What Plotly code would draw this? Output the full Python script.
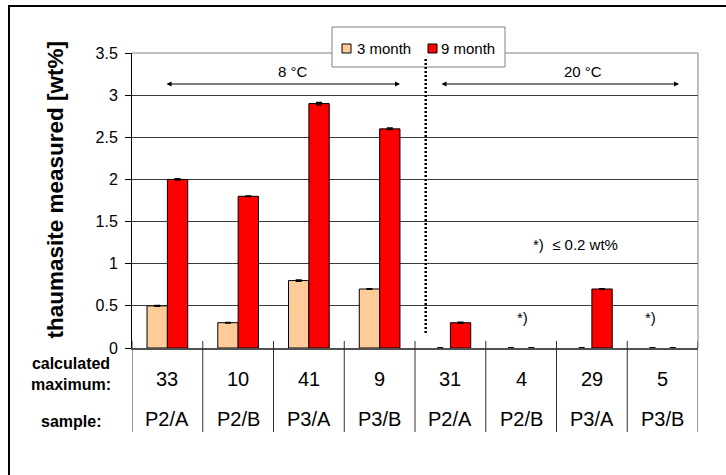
import plotly.graph_objects as go

# ---- data ----
samples = ["P2/A", "P2/B", "P3/A", "P3/B", "P2/A", "P2/B", "P3/A", "P3/B"]
calc_max = ["33", "10", "41", "9", "31", "4", "29", "5"]
month3 = [0.5, 0.3, 0.8, 0.7, 0.0, 0.0, 0.0, 0.0]
month9 = [2.0, 1.8, 2.9, 2.6, 0.3, 0.0, 0.7, 0.0]
month3_err = [0.005, 0.005, 0.008, 0.005, 0.003, 0.003, 0.003, 0.003]
month9_err = [0.008, 0.005, 0.015, 0.01, 0.008, 0.003, 0.005, 0.003]
yticks = [0, 0.5, 1, 1.5, 2, 2.5, 3, 3.5]

FONT = "Liberation Sans, Arial, sans-serif"
W_PX, H_PX = 726, 475
L, R, T, B = 132, 698, 53, 348          # plot area in pixels
NCAT = len(samples)
YMAX = 3.5


def px_x(x):
    """pixel x -> paper x"""
    return (x - L) / (R - L)


def px_y(y):
    """pixel y -> paper y"""
    return (B - y) / (B - T)


def dx(x):
    """pixel x -> data x"""
    return (x - L) / (R - L) * NCAT - 0.5


def dy(y):
    """pixel y -> data y"""
    return (B - y) / (B - T) * YMAX


def outline(values):
    # empty bars get no outline, only their error cap remains
    return [1 if v > 0 else 0 for v in values]


idx = list(range(NCAT))

fig = go.Figure()
fig.add_trace(go.Bar(
    x=idx, y=month3, name="3 month", showlegend=False,
    marker=dict(color="#FFCC99", line=dict(color="black", width=outline(month3))),
    error_y=dict(type="data", array=month3_err, color="black", thickness=1.3, width=3),
))
fig.add_trace(go.Bar(
    x=idx, y=month9, name="9 month", showlegend=False,
    marker=dict(color="#FF0000", line=dict(color="black", width=outline(month9))),
    error_y=dict(type="data", array=month9_err, color="black", thickness=1.3, width=3),
))

shapes = []
# outer frame
shapes.append(dict(type="rect", xref="paper", yref="paper",
                   x0=px_x(9), x1=px_x(760), y0=px_y(6), y1=px_y(520),
                   line=dict(color="black", width=2), fillcolor="rgba(0,0,0,0)"))
# plot frame: top and right edges
shapes.append(dict(type="line", xref="paper", yref="paper",
                   x0=0, x1=1, y0=1, y1=1, line=dict(color="#808080", width=1)))
shapes.append(dict(type="line", xref="paper", yref="paper",
                   x0=1, x1=1, y0=0, y1=1, line=dict(color="#808080", width=1)))
# table separators below the category axis
for k in range(NCAT + 1):
    shapes.append(dict(type="line", xref="x", yref="paper",
                       x0=k - 0.5, x1=k - 0.5, y0=px_y(341), y1=px_y(432),
                       line=dict(color="#303030", width=1)))
# legend box
shapes.append(dict(type="rect", xref="paper", yref="paper",
                   x0=px_x(332), x1=px_x(505), y0=px_y(27), y1=px_y(67),
                   line=dict(color="#808080", width=1), fillcolor="white"))
shapes.append(dict(type="rect", xref="paper", yref="paper",
                   x0=px_x(342), x1=px_x(351), y0=px_y(44), y1=px_y(53),
                   line=dict(color="black", width=1), fillcolor="#FFCC99"))
shapes.append(dict(type="rect", xref="paper", yref="paper",
                   x0=px_x(428), x1=px_x(437), y0=px_y(44), y1=px_y(53),
                   line=dict(color="black", width=1), fillcolor="#FF0000"))
# dotted divider between the two temperature series
shapes.append(dict(type="line", xref="x", yref="y",
                   x0=dx(425.7), x1=dx(425.7), y0=dy(333), y1=dy(57),
                   line=dict(color="black", width=2.5, dash="2px,2px")))

annotations = []
# legend labels
annotations.append(dict(xref="paper", yref="paper", x=px_x(355), y=px_y(48),
                        text="3 month", showarrow=False, xanchor="left", yanchor="middle",
                        font=dict(family=FONT, size=15, color="black")))
annotations.append(dict(xref="paper", yref="paper", x=px_x(439), y=px_y(48),
                        text="9 month", showarrow=False, xanchor="left", yanchor="middle",
                        font=dict(family=FONT, size=15, color="black")))
# temperature ranges
for label, xc, xa, xb in [("8 °C", 293, 165, 400), ("20 °C", 583, 440, 679)]:
    annotations.append(dict(xref="x", yref="y", x=dx(xc), y=dy(71), text=label,
                            showarrow=False, xanchor="center", yanchor="middle",
                            font=dict(family=FONT, size=15, color="black")))
    annotations.append(dict(xref="x", yref="y", axref="x", ayref="y",
                            x=dx(xb), y=dy(84), ax=dx(xa), ay=dy(84), text="",
                            showarrow=True, arrowside="end+start", arrowhead=2,
                            arrowsize=1, arrowwidth=1, arrowcolor="black",
                            standoff=0, startstandoff=0))
# footnote markers
annotations.append(dict(xref="x", yref="y", x=dx(575.7), y=dy(244.5),
                        text="*)  ≤ 0.2 wt%", showarrow=False,
                        xanchor="center", yanchor="middle",
                        font=dict(family=FONT, size=15, color="black")))
for xc in (522, 650):
    annotations.append(dict(xref="x", yref="y", x=dx(xc), y=dy(317.5), text="*)",
                            showarrow=False, xanchor="center", yanchor="middle",
                            font=dict(family=FONT, size=15, color="black")))
# table rows under the axis
for i in idx:
    annotations.append(dict(xref="x", yref="paper", x=i, y=px_y(379), text=calc_max[i],
                            showarrow=False, xanchor="center", yanchor="middle",
                            font=dict(family=FONT, size=20, color="black")))
    annotations.append(dict(xref="x", yref="paper", x=i, y=px_y(419), text=samples[i],
                            showarrow=False, xanchor="center", yanchor="middle",
                            font=dict(family=FONT, size=20, color="black")))
annotations.append(dict(xref="paper", yref="paper", x=px_x(70.5), y=px_y(374),
                        text="<b>calculated<br>maximum:</b>", showarrow=False,
                        align="center", xanchor="center", yanchor="middle",
                        font=dict(family=FONT, size=16, color="black")))
annotations.append(dict(xref="paper", yref="paper", x=px_x(70.5), y=px_y(421),
                        text="<b>sample:</b>", showarrow=False,
                        xanchor="center", yanchor="middle",
                        font=dict(family=FONT, size=16, color="black")))
# y-axis title
annotations.append(dict(xref="paper", yref="paper", x=px_x(54.5), y=px_y(190),
                        text="<b>thaumasite measured [wt%]</b>", textangle=-90,
                        showarrow=False, xanchor="center", yanchor="middle",
                        font=dict(family=FONT, size=22.5, color="black")))

fig.update_layout(
    width=W_PX, height=H_PX,
    margin=dict(l=L, r=W_PX - R, t=T, b=H_PX - B, pad=0),
    paper_bgcolor="white", plot_bgcolor="white",
    barmode="group", bargap=0.425, bargroupgap=0,
    shapes=shapes, annotations=annotations,
    showlegend=False,
    font=dict(family=FONT, color="black"),
)
fig.update_xaxes(
    range=[-0.5, NCAT - 0.5], tickvals=idx, showticklabels=False, ticks="",
    showgrid=False, zeroline=False, showline=True, linecolor="#505050", linewidth=2,
)
fig.update_yaxes(
    range=[0, YMAX], tickvals=yticks, ticktext=[f"{v:g}" for v in yticks],
    ticks="outside", ticklen=6, tickcolor="black", tickwidth=1,
    ticklabelstandoff=4,
    showgrid=True, gridcolor="#3a3a3a", gridwidth=1, zeroline=False,
    showline=True, linecolor="black", linewidth=1,
    tickfont=dict(family=FONT, size=16, color="black"),
)

fig.write_html("out.html")
